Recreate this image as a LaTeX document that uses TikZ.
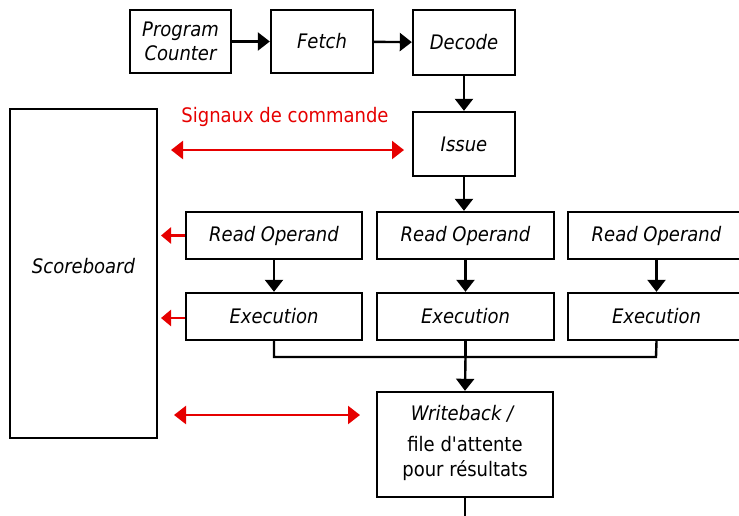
\documentclass[tikz,border=0pt]{standalone}
\usepackage{fontspec}
\setmainfont{DejaVu Sans Condensed}
% plain family without TeX ligature mapping, so that ' stays straight
\newfontfamily\lblfam{DejaVu Sans Condensed}
\usetikzlibrary{arrows.meta}
\definecolor{sigred}{RGB}{230,0,0}
\newcommand\lblfont{\lblfam\fontsize{20}{24}\selectfont}
\tikzset{
  x=1pt, y=-1pt,
  stage/.style={draw=black, line width=2.4pt, fill=white, inner sep=0pt,
    font=\lblfont\itshape, align=center},
  flow/.style={draw=black, line width=2.4pt,
    -{Triangle[length=12pt, width=18pt]}},
  wire/.style={draw=black, line width=2.4pt},
  ctrl/.style={draw=sigred, line width=2.4pt,
    {Triangle[length=12pt, width=18pt]}-{Triangle[length=12pt, width=18pt]}},
  ctrlout/.style={draw=sigred, line width=2.4pt,
    -{Triangle[length=10pt, width=16pt]}},
}
\begin{document}
\begin{tikzpicture}
\useasboundingbox (0,0) rectangle (739,515);
\clip (0,0) rectangle (739,515);

% front end of the pipeline
\node[stage, minimum width=101pt, minimum height=63pt] (pc) at (180.5,41.5) {Program\\Counter};
\node[stage, minimum width=102pt, minimum height=63pt] (fetch) at (322,41.5) {Fetch};
\node[stage, minimum width=102pt, minimum height=65pt] (decode) at (464,42.5) {Decode};
\node[stage, minimum width=102pt, minimum height=64pt] (issue) at (464,144) {Issue};

% scoreboard
\node[draw=black, line width=2.4pt, minimum width=147pt, minimum height=329pt] (sb) at (83.5,273.5) {};
\node[font=\lblfont\itshape] (sbtext) at (83.5,266) {Scoreboard};

% functional units
\node[stage, minimum width=176pt, minimum height=47pt] (ro1) at (274,235.5) {Read Operand};
\node[stage, minimum width=177pt, minimum height=47pt] (ro2) at (465.5,235.5) {Read Operand};
\node[stage, minimum width=177pt, minimum height=47pt] (ro3) at (656.5,235.5) {Read Operand};
\node[stage, minimum width=176pt, minimum height=47pt] (ex1) at (274,316.5) {Execution};
\node[stage, minimum width=177pt, minimum height=47pt] (ex2) at (465.5,316.5) {Execution};
\node[stage, minimum width=177pt, minimum height=47pt] (ex3) at (656.5,316.5) {Execution};

% result stage
\node[stage, minimum width=176pt, minimum height=105pt] (wb) at (465,444.5) {};
\node[font=\lblfont\itshape] (wbt1) at (462,414) {Writeback /};
\node[font=\lblfont] (wbt2) at (465,444) {file d'attente};
\node[font=\lblfont] (wbt3) at (465,471) {pour résultats};

% pipeline flow
\draw[flow] (pc) -- (fetch);
\draw[flow] (fetch) -- (decode);
\draw[flow] (decode) -- (issue);
\draw[flow] (issue.south) -- (issue.south |- ro2.north);
\draw[flow] (ro1) -- (ex1);
\draw[flow] (ro2) -- (ex2);
\draw[flow] (ro3) -- (ex3);

% results bus
\coordinate (bus1) at (274,357);
\coordinate (bus3) at (656,357);
\draw[wire, line join=miter] (ex1.south) -- (bus1) -- (bus3) -- (ex3.south);
\draw[wire] (ex2.south) -- (ex2.south |- bus1);
\draw[flow] (ex2.south |- bus1) -- (wb.north);
\coordinate (wbout) at (465,520);
\draw[wire] (wb.south) -- (wbout);

% control signals
\node[font=\lblfont, text=sigred] (siglabel) at (285,117) {Signaux de commande};
\coordinate (sigL) at (171,150);
\coordinate (sigR) at (404,150);
\draw[ctrl] (sigL) -- (sigR);
\coordinate (sig2L) at (174,415);
\coordinate (sig2R) at (360,415);
\draw[ctrl] (sig2L) -- (sig2R);
\coordinate (ro1out) at (161,235.5);
\coordinate (ex1out) at (161,318);
\draw[ctrlout] (ro1.west) -- (ro1out);
\draw[ctrlout] (ex1.west |- ex1out) -- (ex1out);
\end{tikzpicture}
\end{document}
